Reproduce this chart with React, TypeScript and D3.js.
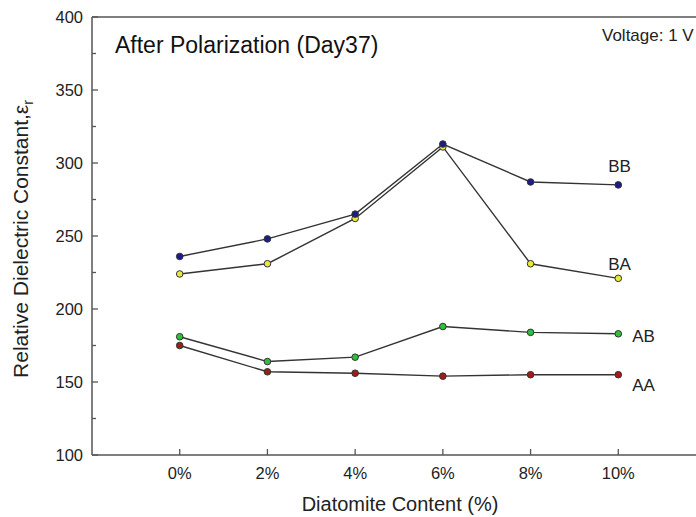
import React from "react";
import * as d3 from "d3";

// Diatomite content (%) on the x axis
const contents = [0, 2, 4, 6, 8, 10];
const xTickLabels = ["0%", "2%", "4%", "6%", "8%", "10%"];
const yTicks = [100, 150, 200, 250, 300, 350, 400];
const yMinorTicks = [125, 175, 225, 275, 325, 375];

// Relative dielectric constant per sample group
const seriesNames = ["AA", "AB", "BA", "BB"];
const valuesAA = [175, 157, 156, 154, 155, 155];
const valuesAB = [181, 164, 167, 188, 184, 183];
const valuesBA = [224, 231, 262, 311, 231, 221];
const valuesBB = [236, 248, 265, 313, 287, 285];
const seriesColors = ["#a31a1a", "#2fc03a", "#e8ea3a", "#1c1c8c"];

const W = 696;
const H = 517;
const FONT = "'Liberation Sans', Arial, sans-serif";

export default function App() {
  const x = d3.scaleLinear().domain([-2, 12]).range([92, 706]);
  const y = d3.scaleLinear().domain([100, 400]).range([455, 17]);

  const seriesValues = [valuesAA, valuesAB, valuesBA, valuesBB];
  const line = d3
    .line<number>()
    .x((_, i) => x(contents[i]))
    .y((v) => y(v));

  // label anchor: [x offset from last point, y baseline]
  const labelPos: Record<string, [number, number]> = {
    AA: [14, 391],
    AB: [14, 342],
    BA: [-10, 270],
    BB: [-10, 172],
  };

  const axisColor = "#555";

  return (
    <svg
      width={W}
      height={H}
      style={{ position: "fixed", left: 0, top: 0, background: "#fff" }}
      fontFamily={FONT}
    >
      <rect x={0} y={0} width={W} height={H} fill="#fff" />

      {/* frame */}
      <line x1={x(-2)} x2={x(12)} y1={y(400)} y2={y(400)} stroke={axisColor} strokeWidth={1.5} />
      <line x1={x(12)} x2={x(12)} y1={y(400)} y2={y(100)} stroke={axisColor} strokeWidth={1.5} />
      <line x1={x(-2)} x2={x(12)} y1={y(100)} y2={y(100)} stroke={axisColor} strokeWidth={1.5} />
      <line x1={x(-2)} x2={x(-2)} y1={y(400)} y2={y(100)} stroke={axisColor} strokeWidth={1.5} />

      {/* y ticks */}
      {yTicks.map((t) => (
        <g key={"yt" + t}>
          <line x1={x(-2)} x2={x(-2) + 6} y1={y(t)} y2={y(t)} stroke={axisColor} strokeWidth={1.3} />
          <text x={x(-2) - 9} y={y(t)} dy="0.35em" textAnchor="end" fontSize={16.5} fill="#222">
            {t}
          </text>
        </g>
      ))}
      {yMinorTicks.map((t) => (
        <line key={"ym" + t} x1={x(-2)} x2={x(-2) + 4} y1={y(t)} y2={y(t)} stroke={axisColor} strokeWidth={1.3} />
      ))}

      {/* x ticks */}
      {contents.map((c, i) => (
        <g key={"xt" + c}>
          <line x1={x(c)} x2={x(c)} y1={y(100)} y2={y(100) - 6} stroke={axisColor} strokeWidth={1.3} />
          <text x={x(c)} y={y(100) + 24} textAnchor="middle" fontSize={16.5} fill="#222">
            {xTickLabels[i]}
          </text>
        </g>
      ))}

      {/* axis titles */}
      <text x={400} y={511} textAnchor="middle" fontSize={20} fill="#222">
        Diatomite Content (%)
      </text>
      <text transform="translate(28,239) rotate(-90)" textAnchor="middle" fontSize={21} fill="#222">
        Relative Dielectric Constant,ε
        <tspan fontSize={14} dy={5}>r</tspan>
      </text>

      {/* annotations */}
      <text x={115} y={53} fontSize={23} fill="#111">
        After Polarization (Day37)
      </text>
      <text x={602} y={41} fontSize={17} fill="#222">
        Voltage: 1 V
      </text>

      {/* series lines */}
      {seriesValues.map((vals, s) => (
        <path key={"l" + s} d={line(vals) || ""} fill="none" stroke="#333" strokeWidth={1.4} />
      ))}

      {/* series markers */}
      {seriesValues.map((vals, s) =>
        vals.map((v, i) => (
          <circle
            key={"m" + s + "-" + i}
            cx={x(contents[i])}
            cy={y(v)}
            r={3.3}
            fill={seriesColors[s]}
            stroke="#333"
            strokeWidth={1}
          />
        ))
      )}

      {/* series labels */}
      {seriesNames.map((name, s) => {
        const vals = seriesValues[s];
        const [dx, by] = labelPos[name];
        return (
          <text key={"n" + name} x={x(contents[vals.length - 1]) + dx} y={by} fontSize={17} fill="#222">
            {name}
          </text>
        );
      })}
    </svg>
  );
}
